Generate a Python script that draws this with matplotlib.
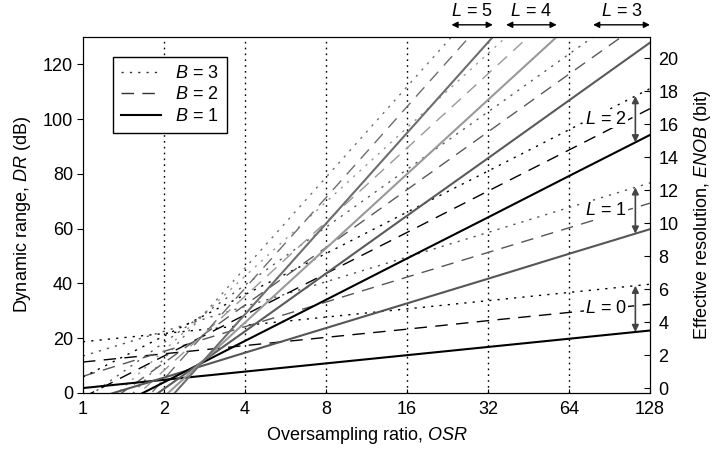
import numpy as np
import matplotlib
matplotlib.use("Agg")
import matplotlib.pyplot as plt
import matplotlib.transforms as mtransforms
from matplotlib.lines import Line2D

plt.rcParams['font.family'] = ['Liberation Sans', 'DejaVu Sans']
plt.rcParams['mathtext.fontset'] = 'custom'
plt.rcParams['mathtext.rm'] = 'Liberation Sans'
plt.rcParams['mathtext.it'] = 'Liberation Sans:italic'
plt.rcParams['font.size'] = 13

# Oversampling ratios
osr = [1, 2, 4, 8, 16, 32, 64, 128]
orders = [0, 1, 2, 3, 4, 5]

# Dynamic range (dB), B = 1 bit quantizer, per loop order L
dr_b1 = {
    0: [1.8, 4.8, 7.8, 10.8, 13.8, 16.8, 19.8, 22.8],
    1: [-3.4, 5.6, 14.7, 23.7, 32.7, 41.7, 50.8, 59.8],
    2: [-11.1, 3.9, 19.0, 34.0, 49.1, 64.1, 79.2, 94.2],
    3: [-19.6, 1.5, 22.5, 43.6, 64.7, 85.7, 106.8, 127.9],
    4: [-28.5, -1.4, 25.7, 52.8, 79.9, 107.0, 134.1, 161.2],
    5: [-37.5, -4.4, 28.7, 61.8, 94.9, 128.0, 161.1, 194.3],
}
# B = 2 bit
dr_b2 = {
    0: [11.3, 14.3, 17.3, 20.3, 23.3, 26.4, 29.4, 32.4],
    1: [6.1, 15.2, 24.2, 33.2, 42.3, 51.3, 60.3, 69.3],
    2: [-1.6, 13.5, 28.5, 43.6, 58.6, 73.7, 88.7, 103.8],
    3: [-10.1, 11.0, 32.1, 53.1, 74.2, 95.3, 116.4, 137.4],
    4: [-18.9, 8.2, 35.3, 62.4, 89.4, 116.5, 143.6, 170.7],
    5: [-28.0, 5.1, 38.2, 71.3, 104.5, 137.6, 170.7, 203.8],
}
# B = 3 bit
dr_b3 = {
    0: [18.7, 21.7, 24.7, 27.7, 30.7, 33.7, 36.7, 39.7],
    1: [13.5, 22.5, 31.6, 40.6, 49.6, 58.6, 67.7, 76.7],
    2: [5.8, 20.8, 35.9, 50.9, 66.0, 81.0, 96.1, 111.1],
    3: [-2.7, 18.4, 39.4, 60.5, 81.6, 102.6, 123.7, 144.8],
    4: [-11.6, 15.5, 42.6, 69.7, 96.8, 123.9, 151.0, 178.1],
    5: [-20.6, 12.5, 45.6, 78.7, 111.8, 144.9, 178.0, 211.2],
}

colors = {0: '#000000', 1: '#555555', 2: '#000000', 3: '#5a5a5a', 4: '#999999', 5: '#6e6e6e'}
style_b3 = (0, (1.6, 4.4))
style_b2 = (0, (9, 6))

fig = plt.figure(figsize=(7.15, 4.53), dpi=100)
ax = fig.add_axes([0.116, 0.1325, 0.793, 0.786])
ax.set_xscale('log', base=2)
ax.set_xlim(1, 128)
ax.set_ylim(0, 130)

for x in osr[1:-1]:
    ax.axvline(x, color='black', lw=1.0, ls=(0, (1.2, 3)), zorder=1)

for L in orders:
    c = colors[L]
    ax.plot(osr, dr_b3[L], color=c, lw=1.0, ls=style_b3, zorder=2)
    ax.plot(osr, dr_b2[L], color=c, lw=1.0, ls=style_b2, zorder=2)
    ax.plot(osr, dr_b1[L], color=c, lw=1.5, ls='-', zorder=3)

ax.set_xticks(osr)
ax.set_xticklabels([str(v) for v in osr])
ax.minorticks_off()
ax.set_yticks([0, 20, 40, 60, 80, 100, 120])
ax.tick_params(axis='y', direction='out', length=4, pad=3)
ax.tick_params(axis='x', direction='in', length=3, pad=6)
ax.set_xlabel('Oversampling ratio, $OSR$', labelpad=5)
ax.set_ylabel('Dynamic range, $DR$ (dB)', labelpad=7)

# Legend
handles = [Line2D([], [], color='#333333', lw=1.0, ls=style_b3),
           Line2D([], [], color='#333333', lw=1.0, ls=style_b2),
           Line2D([], [], color='black', lw=1.5, ls='-')]
leg = ax.legend(handles, ['$B$ = 3', '$B$ = 2', '$B$ = 1'], loc='upper left',
                bbox_to_anchor=(0.053, 0.944), borderaxespad=0, fancybox=False,
                edgecolor='black', framealpha=1, handlelength=2.2, handletextpad=0.8,
                labelspacing=0.25, borderpad=0.45)
leg.get_frame().set_linewidth(1.0)

# Right axis: ENOB
ax2 = ax.twinx()
ax2.set_ylim((0 - 1.76) / 6.02, (130 - 1.76) / 6.02)
ax2.set_yticks(np.arange(0, 21, 2))
ax2.tick_params(axis='y', direction='in', length=4, pad=6)
ax2.set_ylabel('Effective resolution, $ENOB$ (bit)', labelpad=10)

# Vertical double arrows between B=1 and B=3 for L=0,1,2
osr_arrow = 113.0
lx = np.log2(osr_arrow)
lo = np.log2(osr)
for L in [0, 1, 2]:
    y1 = np.interp(lx, lo, dr_b1[L])
    y3 = np.interp(lx, lo, dr_b3[L])
    ax.annotate('', xy=(osr_arrow, y3), xytext=(osr_arrow, y1),
                arrowprops=dict(arrowstyle='<|-|>', color='#444444', lw=1.2,
                                mutation_scale=10, shrinkA=0, shrinkB=0), zorder=5)
    ax.annotate('$L$ = %d' % L, xy=(osr_arrow, (y1 + y3) / 2), xytext=(-6, 0),
                textcoords='offset points', ha='right', va='center',
                bbox=dict(fc='white', ec='none', pad=0.5), zorder=4)

# Top arrows for L=3,4,5
trans = mtransforms.blended_transform_factory(ax.transData, ax.transAxes)
for L in [3, 4, 5]:
    xa = 2 ** np.interp(130, dr_b3[L], lo)
    xb = min(2 ** np.interp(130, dr_b1[L], lo), 128)
    ax.annotate('', xy=(xb, 1.034), xytext=(xa, 1.034), xycoords=trans, textcoords=trans,
                arrowprops=dict(arrowstyle='<|-|>', color='black', lw=1.0,
                                mutation_scale=9, shrinkA=0, shrinkB=0),
                annotation_clip=False)
    xm = np.sqrt(xa * xb)
    ax.text(xm, 1.072, '$L$ = %d' % L, transform=trans, ha='center', va='center')

fig.savefig('out.png', dpi=100)
